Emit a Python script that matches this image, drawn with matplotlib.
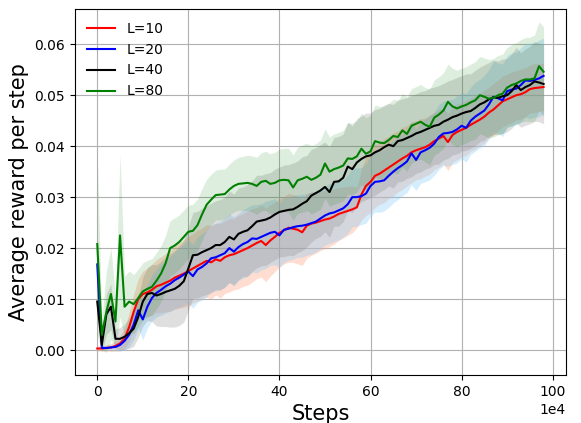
import numpy as np
import matplotlib
matplotlib.use("Agg")
import matplotlib.pyplot as plt

steps = np.arange(99) * 10000

labels = ["L=10", "L=20", "L=40", "L=80"]

r_l10 = [0.0003, 0.0003, 0.0004, 0.0005, 0.0008, 0.0013, 0.0022, 0.0045, 0.0075, 0.0100,
         0.0110, 0.0113, 0.0118, 0.0125, 0.0128, 0.0132, 0.0136, 0.0142, 0.0146, 0.0150,
         0.0155, 0.0160, 0.0165, 0.0170, 0.0175, 0.0172, 0.0178, 0.0175, 0.0182, 0.0186,
         0.0188, 0.0192, 0.0196, 0.0200, 0.0205, 0.0210, 0.0214, 0.0206, 0.0215, 0.0222,
         0.0230, 0.0235, 0.0240, 0.0238, 0.0236, 0.0231, 0.0244, 0.0248, 0.0250, 0.0253,
         0.0256, 0.0258, 0.0262, 0.0267, 0.0270, 0.0273, 0.0276, 0.0280, 0.0305, 0.0322,
         0.0330, 0.0342, 0.0346, 0.0352, 0.0358, 0.0364, 0.0370, 0.0376, 0.0381, 0.0388,
         0.0392, 0.0395, 0.0398, 0.0403, 0.0410, 0.0415, 0.0420, 0.0408, 0.0422, 0.0428,
         0.0432, 0.0436, 0.0442, 0.0447, 0.0452, 0.0458, 0.0466, 0.0472, 0.0480, 0.0488,
         0.0492, 0.0496, 0.0500, 0.0502, 0.0506, 0.0512, 0.0514, 0.0515, 0.0516]

r_l20 = [0.0168, 0.0004, 0.0004, 0.0005, 0.0006, 0.0010, 0.0018, 0.0030, 0.0050, 0.0078,
         0.0060, 0.0085, 0.0102, 0.0112, 0.0118, 0.0125, 0.0130, 0.0137, 0.0142, 0.0148,
         0.0154, 0.0145, 0.0158, 0.0163, 0.0170, 0.0180, 0.0182, 0.0186, 0.0190, 0.0200,
         0.0193, 0.0202, 0.0208, 0.0212, 0.0219, 0.0218, 0.0222, 0.0226, 0.0230, 0.0232,
         0.0225, 0.0236, 0.0238, 0.0241, 0.0243, 0.0244, 0.0246, 0.0249, 0.0252, 0.0258,
         0.0264, 0.0268, 0.0270, 0.0274, 0.0278, 0.0286, 0.0300, 0.0300, 0.0302, 0.0307,
         0.0322, 0.0330, 0.0331, 0.0333, 0.0342, 0.0350, 0.0357, 0.0363, 0.0370, 0.0386,
         0.0373, 0.0388, 0.0392, 0.0397, 0.0405, 0.0418, 0.0425, 0.0426, 0.0428, 0.0433,
         0.0440, 0.0436, 0.0450, 0.0458, 0.0464, 0.0470, 0.0482, 0.0497, 0.0494, 0.0490,
         0.0508, 0.0511, 0.0513, 0.0520, 0.0529, 0.0528, 0.0530, 0.0533, 0.0538]

r_l40 = [0.0095, 0.0010, 0.0070, 0.0085, 0.0022, 0.0022, 0.0026, 0.0033, 0.0042, 0.0065,
         0.0095, 0.0110, 0.0112, 0.0107, 0.0110, 0.0114, 0.0117, 0.0120, 0.0126, 0.0135,
         0.0160, 0.0186, 0.0187, 0.0192, 0.0196, 0.0200, 0.0206, 0.0206, 0.0212, 0.0222,
         0.0217, 0.0228, 0.0232, 0.0235, 0.0243, 0.0252, 0.0254, 0.0256, 0.0260, 0.0266,
         0.0271, 0.0273, 0.0275, 0.0276, 0.0281, 0.0287, 0.0292, 0.0303, 0.0308, 0.0313,
         0.0320, 0.0310, 0.0330, 0.0331, 0.0338, 0.0360, 0.0355, 0.0368, 0.0375, 0.0380,
         0.0382, 0.0388, 0.0392, 0.0398, 0.0403, 0.0400, 0.0410, 0.0412, 0.0416, 0.0420,
         0.0425, 0.0428, 0.0432, 0.0436, 0.0440, 0.0442, 0.0448, 0.0452, 0.0457, 0.0460,
         0.0464, 0.0467, 0.0469, 0.0475, 0.0482, 0.0486, 0.0492, 0.0496, 0.0495, 0.0498,
         0.0500, 0.0508, 0.0520, 0.0510, 0.0516, 0.0520, 0.0527, 0.0525, 0.0522]

r_l80 = [0.0208, 0.0030, 0.0075, 0.0110, 0.0056, 0.0225, 0.0085, 0.0095, 0.0090, 0.0102,
         0.0115, 0.0120, 0.0124, 0.0136, 0.0150, 0.0170, 0.0200, 0.0205, 0.0212, 0.0222,
         0.0232, 0.0234, 0.0245, 0.0266, 0.0285, 0.0295, 0.0304, 0.0305, 0.0306, 0.0315,
         0.0322, 0.0326, 0.0327, 0.0328, 0.0326, 0.0322, 0.0330, 0.0332, 0.0326, 0.0328,
         0.0333, 0.0334, 0.0333, 0.0319, 0.0333, 0.0336, 0.0340, 0.0334, 0.0338, 0.0344,
         0.0366, 0.0350, 0.0355, 0.0358, 0.0362, 0.0376, 0.0375, 0.0380, 0.0395, 0.0385,
         0.0390, 0.0410, 0.0407, 0.0406, 0.0412, 0.0420, 0.0418, 0.0431, 0.0424, 0.0440,
         0.0444, 0.0448, 0.0442, 0.0438, 0.0456, 0.0462, 0.0470, 0.0487, 0.0478, 0.0474,
         0.0478, 0.0481, 0.0486, 0.0490, 0.0500, 0.0497, 0.0493, 0.0495, 0.0500, 0.0503,
         0.0515, 0.0520, 0.0523, 0.0528, 0.0531, 0.0531, 0.0533, 0.0557, 0.0546]

s_l10 = [0.0005, 0.0005, 0.0006, 0.0008, 0.0010, 0.0015, 0.0020, 0.0028, 0.0035, 0.0040,
         0.0045, 0.0047, 0.0050, 0.0052, 0.0055, 0.0057, 0.0060, 0.0062, 0.0064, 0.0066,
         0.0068, 0.0068, 0.0070, 0.0069, 0.0071, 0.0072, 0.0070, 0.0073, 0.0071, 0.0072,
         0.0070, 0.0072, 0.0071, 0.0073, 0.0072, 0.0070, 0.0071, 0.0072, 0.0070, 0.0068,
         0.0067, 0.0066, 0.0068, 0.0066, 0.0067, 0.0065, 0.0064, 0.0062, 0.0060, 0.0058,
         0.0057, 0.0055, 0.0054, 0.0052, 0.0050, 0.0048, 0.0046, 0.0040, 0.0050, 0.0058,
         0.0060, 0.0062, 0.0060, 0.0063, 0.0061, 0.0062, 0.0060, 0.0061, 0.0059, 0.0060,
         0.0058, 0.0059, 0.0057, 0.0058, 0.0056, 0.0057, 0.0055, 0.0056, 0.0054, 0.0055,
         0.0053, 0.0054, 0.0052, 0.0053, 0.0051, 0.0052, 0.0050, 0.0051, 0.0050, 0.0050,
         0.0049, 0.0050, 0.0048, 0.0049, 0.0048, 0.0047, 0.0048, 0.0047, 0.0046]

s_l20 = [0.0020, 0.0005, 0.0005, 0.0006, 0.0008, 0.0012, 0.0018, 0.0024, 0.0030, 0.0036,
         0.0040, 0.0042, 0.0045, 0.0047, 0.0050, 0.0052, 0.0054, 0.0056, 0.0058, 0.0060,
         0.0062, 0.0063, 0.0064, 0.0065, 0.0066, 0.0065, 0.0067, 0.0066, 0.0068, 0.0067,
         0.0068, 0.0066, 0.0067, 0.0068, 0.0066, 0.0067, 0.0065, 0.0066, 0.0064, 0.0065,
         0.0063, 0.0064, 0.0062, 0.0063, 0.0061, 0.0062, 0.0060, 0.0061, 0.0059, 0.0060,
         0.0058, 0.0059, 0.0057, 0.0058, 0.0056, 0.0057, 0.0058, 0.0057, 0.0056, 0.0058,
         0.0060, 0.0059, 0.0061, 0.0060, 0.0062, 0.0061, 0.0062, 0.0060, 0.0061, 0.0062,
         0.0060, 0.0061, 0.0062, 0.0063, 0.0062, 0.0064, 0.0063, 0.0065, 0.0064, 0.0066,
         0.0065, 0.0067, 0.0066, 0.0068, 0.0067, 0.0069, 0.0068, 0.0070, 0.0069, 0.0071,
         0.0070, 0.0072, 0.0071, 0.0073, 0.0072, 0.0074, 0.0073, 0.0075, 0.0074]

s_l40 = [0.0020, 0.0015, 0.0040, 0.0045, 0.0020, 0.0022, 0.0025, 0.0030, 0.0035, 0.0040,
         0.0048, 0.0052, 0.0056, 0.0060, 0.0064, 0.0068, 0.0072, 0.0075, 0.0078, 0.0080,
         0.0082, 0.0084, 0.0085, 0.0086, 0.0087, 0.0088, 0.0087, 0.0089, 0.0088, 0.0090,
         0.0089, 0.0090, 0.0088, 0.0090, 0.0089, 0.0091, 0.0089, 0.0090, 0.0088, 0.0089,
         0.0088, 0.0090, 0.0089, 0.0091, 0.0090, 0.0092, 0.0090, 0.0091, 0.0089, 0.0090,
         0.0088, 0.0089, 0.0087, 0.0088, 0.0086, 0.0087, 0.0085, 0.0086, 0.0084, 0.0085,
         0.0083, 0.0084, 0.0082, 0.0083, 0.0081, 0.0082, 0.0080, 0.0081, 0.0079, 0.0080,
         0.0078, 0.0079, 0.0077, 0.0078, 0.0076, 0.0077, 0.0075, 0.0076, 0.0074, 0.0075,
         0.0074, 0.0075, 0.0073, 0.0074, 0.0073, 0.0074, 0.0072, 0.0073, 0.0072, 0.0073,
         0.0072, 0.0073, 0.0074, 0.0073, 0.0075, 0.0076, 0.0078, 0.0077, 0.0078]

s_l80 = [0.0180, 0.0030, 0.0080, 0.0090, 0.0050, 0.0160, 0.0060, 0.0060, 0.0058, 0.0057,
         0.0056, 0.0056, 0.0055, 0.0055, 0.0055, 0.0055, 0.0054, 0.0054, 0.0053, 0.0053,
         0.0052, 0.0052, 0.0051, 0.0051, 0.0050, 0.0050, 0.0049, 0.0050, 0.0049, 0.0050,
         0.0051, 0.0052, 0.0053, 0.0054, 0.0055, 0.0056, 0.0057, 0.0058, 0.0059, 0.0060,
         0.0061, 0.0062, 0.0063, 0.0064, 0.0065, 0.0066, 0.0066, 0.0067, 0.0067, 0.0068,
         0.0068, 0.0068, 0.0069, 0.0069, 0.0069, 0.0070, 0.0070, 0.0070, 0.0070, 0.0071,
         0.0071, 0.0071, 0.0071, 0.0072, 0.0072, 0.0072, 0.0072, 0.0072, 0.0073, 0.0073,
         0.0073, 0.0073, 0.0073, 0.0074, 0.0074, 0.0074, 0.0074, 0.0074, 0.0075, 0.0075,
         0.0075, 0.0075, 0.0075, 0.0076, 0.0076, 0.0076, 0.0077, 0.0077, 0.0078, 0.0078,
         0.0079, 0.0079, 0.0080, 0.0081, 0.0082, 0.0083, 0.0085, 0.0087, 0.0088]

means = [r_l10, r_l20, r_l40, r_l80]
stds = [s_l10, s_l20, s_l40, s_l80]
line_colors = ["red", "blue", "black", "green"]
band_colors = ["lightsalmon", "lightskyblue", "gray", "green"]
band_alphas = [0.35, 0.35, 0.25, 0.13]

fig = plt.figure(figsize=(5.81, 4.23), dpi=100)
ax = fig.add_axes([0.129, 0.1135, 0.845, 0.865])

for m, s, bc, ba in zip(means, stds, band_colors, band_alphas):
    m = np.array(m)
    s = np.array(s)
    ax.fill_between(steps, m - s, m + s, color=bc, alpha=ba, linewidth=0)
for m, lc, lab in zip(means, line_colors, labels):
    ax.plot(steps, m, color=lc, linewidth=1.5, label=lab)

ax.set_ylim(-0.0049, 0.0669)
ax.set_xlim(-49000, 1029000)
ax.ticklabel_format(axis="x", style="sci", scilimits=(4, 4))
ax.grid(True, color="#b0b0b0", linewidth=0.8)
ax.set_axisbelow(True)
ax.set_xlabel("Steps", fontsize=15)
ax.set_ylabel("Average reward per step", fontsize=15)
ax.tick_params(labelsize=10)
ax.legend(loc="upper left", frameon=False, fontsize=10)

fig.savefig("out.png", dpi=100)
